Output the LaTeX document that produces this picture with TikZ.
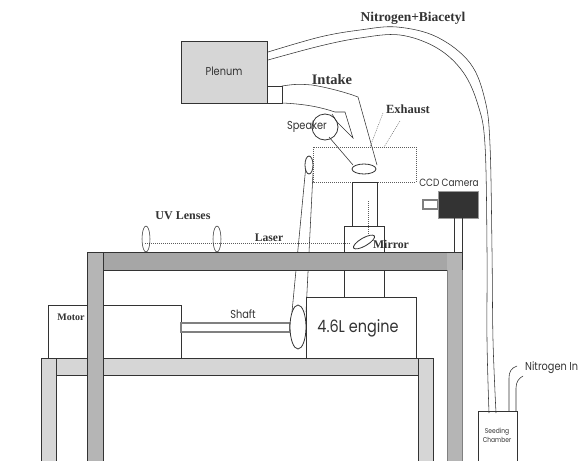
\documentclass[tikz,border=0pt]{standalone}
\usepackage{fontspec}
\setmainfont{Liberation Serif}
\newfontfamily\thinsans[FakeStretch=0.85]{Poppins}
\definecolor{ink}{gray}{0.2}
\definecolor{barA}{gray}{0.65}
\definecolor{barB}{gray}{0.71}
\definecolor{barC}{gray}{0.84}
\tikzset{
  part/.style={draw=ink,line width=0.8pt},
  hair/.style={draw=ink,line width=0.55pt},
  dots/.style={draw=ink!80,line width=0.4pt,dash pattern=on 1pt off 1pt},
  serif/.style={font=\bfseries\fontsize{#1}{#1}\selectfont,text=ink,inner sep=0pt},
  sans/.style={font=\thinsans\fontsize{#1}{#1}\selectfont,text=ink,inner sep=0pt},
}
\begin{document}
\begin{tikzpicture}[x=1pt,y=-1pt]
\clip (0,0) rectangle (582,461);
\fill[white] (0,0) rectangle (582,461);
% tube
\draw[hair] plot[smooth,tension=0.6] coordinates {(268,52)(320,37)(360,30)(397,27)(437,37)(470,63)(485,100)(490,145)(492,250)(493,340)(496,413)};
\draw[hair] plot[smooth,tension=0.6] coordinates {(268,60)(320,46)(360,38)(400,35)(437,48)(463,72)(478,105)(485,145)(487,250)(487,340)(489,413)};
% plenum and intake
\draw[part,fill=barC] (181,41) rectangle (267,103);
\node[sans=11.5] (plenum) at (224,71) {Plenum};
\draw[part,fill=white] (267,86) rectangle (282,103);
\draw[hair] (282,86) .. controls (295,84) and (300,84) .. (312,85) .. controls (325,87) and (345,92) .. (358,97) -- (377,165);
\draw[hair] (282,103) .. controls (305,104) and (320,107) .. (335,112) -- (345,112) -- (353,138) -- (337,122) -- (332,114);
% speaker
\draw[part] (325,127) circle (13);
\node[sans=11.5] (speaker) at (307,127) {Speaker};
\draw[hair] (329,137) -- (353,165);
\draw[part] (364,169) ellipse (12 and 5);
% exhaust region
\draw[dots] (313,147) rectangle (416,182);
\draw[dots] (383,113) -- (370,147);
\draw[dots] (400,121) -- (384,147);
% belt
\draw[hair] (306,165) -- (292,312);
\draw[hair] (313,173) -- (306,312);
\draw[part,fill=white] (309,165) ellipse (4 and 9);
% motor and engine
\draw[part,fill=white] (48,305) rectangle (181,358);
\draw[part,fill=white] (306,297) rectangle (416,358);
\draw[part,draw=gray,line width=1.2pt] (181,323) rectangle (290,332);
\draw[part,fill=white] (298,327) ellipse (8 and 22);
% cylinder and mirror box
\draw[part] (352,226) -- (352,182) -- (377,182) -- (377,226);
\draw[part] (344,252) -- (344,226) -- (384,226) -- (384,252);
\draw[part] (344,270) -- (344,297);
\draw[part] (384,270) -- (384,297);
\draw[dots] (368,201) -- (368,235);
\draw[dots] (145,243) -- (350,243);
\draw[part] (364,242) ellipse[x radius=12,y radius=4,rotate=30];
% lenses
\draw[hair] (146,239) ellipse (4 and 13);
\draw[hair] (217,239) ellipse (4 and 13);
% lower table
\draw[part,fill=barC] (41,358) rectangle (433,375);
\draw[part,fill=barC] (41,358) rectangle (56,470);
\draw[part,fill=barC] (418,358) rectangle (433,470);
% upper table
\draw[part,fill=barA] (87,252) rectangle (447,270);
\fill[barB] (87,252) rectangle (103,470);
\draw[part] (103,470) -- (103,252) -- (87,252) -- (87,470);
\fill[barB] (447,252) rectangle (462,470);
\draw[part] (447,252) -- (462,252) -- (462,270);
\draw[gray,line width=0.8pt] (447,270) -- (447,470);
\draw[gray,line width=0.8pt] (462,270) -- (462,470);
% camera
\draw[draw=gray,line width=1.2pt,fill=white] (423,200) rectangle (438,209);
\draw[draw=ink!50,fill=ink] (438,191) rectangle (478,218);
\draw[part] (454,218) -- (454,252);
\draw[part] (462,218) -- (462,252);
% seeding chamber
\draw[part] (478,470) -- (478,411) -- (517,411) -- (517,470);
\draw[hair] (509,411) -- (509,378) .. controls (509,372) and (511,368) .. (517,366);
\draw[hair] (516,411) -- (516,388) .. controls (516,382) and (519,378) .. (523,376);
% labels
\node[serif=13.5] (nb) at (413,18) {Nitrogen+Biacetyl};
\node[serif=14.5] (intake) at (332,80) {Intake};
\node[serif=12.5] (exhaust) at (408,109) {Exhaust};
\node[sans=10.5] (ccd) at (449,183) {CCD Camera};
\node[serif=12] (uv) at (183,216) {UV Lenses};
\node[serif=11.6] (laser) at (269,238) {Laser};
\node[serif=11.8] (mirror) at (391,244) {Mirror};
\node[serif=10] (motor) at (71,317) {Motor};
\node[sans=11.5] (shaft) at (243,314) {Shaft};
\node[sans=17] (engine) at (358,328) {4.6L engine};
\node[sans=11.5,anchor=west] (nitro) at (525,368) {Nitrogen In};
\node[sans=7,align=center] (seed) at (497,435) {Seeding\\[1pt]Chamber};
\end{tikzpicture}
\end{document}
